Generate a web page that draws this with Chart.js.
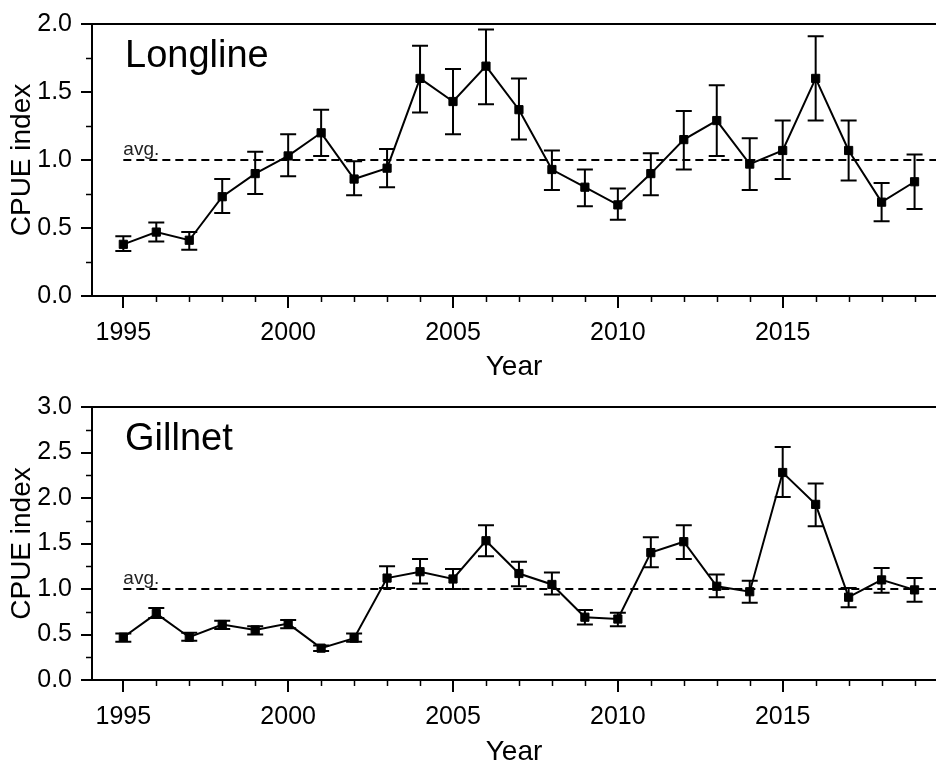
<!DOCTYPE html>
<html>
<head>
<meta charset="utf-8">
<title>CPUE index - Longline / Gillnet</title>
<script src="https://cdn.jsdelivr.net/npm/chart.js@4.4.1/dist/chart.umd.min.js"></script>
<style>
  html, body { margin: 0; padding: 0; background: #fff; overflow: hidden; }
  canvas { display: block; }
</style>
</head>
<body>
<canvas id="longlineChart" width="936" height="383"></canvas>
<canvas id="gillnetChart" width="936" height="383"></canvas>
<script>
// data
const years = [1995, 1996, 1997, 1998, 1999, 2000, 2001, 2002, 2003, 2004, 2005, 2006,
               2007, 2008, 2009, 2010, 2011, 2012, 2013, 2014, 2015, 2016, 2017, 2018, 2019];

const longlineIndex = [0.38, 0.47, 0.41, 0.73, 0.90, 1.03, 1.20, 0.86, 0.94, 1.60, 1.43, 1.69,
                       1.37, 0.93, 0.80, 0.67, 0.90, 1.15, 1.29, 0.97, 1.07, 1.60, 1.07, 0.69, 0.84];
const longlineLower = [0.33, 0.40, 0.34, 0.61, 0.75, 0.88, 1.03, 0.74, 0.80, 1.35, 1.19, 1.41,
                       1.15, 0.78, 0.66, 0.56, 0.74, 0.93, 1.03, 0.78, 0.86, 1.29, 0.85, 0.55, 0.64];
const longlineUpper = [0.44, 0.54, 0.47, 0.86, 1.06, 1.19, 1.37, 0.99, 1.08, 1.84, 1.67, 1.96,
                       1.60, 1.07, 0.93, 0.79, 1.05, 1.36, 1.55, 1.16, 1.29, 1.91, 1.29, 0.83, 1.04];

const gillnetIndex = [0.47, 0.73, 0.47, 0.61, 0.55, 0.62, 0.35, 0.46, 1.12, 1.19, 1.11, 1.53,
                      1.17, 1.05, 0.69, 0.67, 1.40, 1.52, 1.03, 0.97, 2.28, 1.93, 0.91, 1.10, 0.99];
const gillnetLower = [0.42, 0.68, 0.43, 0.56, 0.50, 0.57, 0.32, 0.42, 1.01, 1.06, 1.00, 1.36,
                      1.03, 0.94, 0.61, 0.59, 1.24, 1.33, 0.91, 0.85, 2.01, 1.69, 0.80, 0.96, 0.86];
const gillnetUpper = [0.51, 0.79, 0.52, 0.65, 0.59, 0.66, 0.38, 0.51, 1.25, 1.33, 1.22, 1.70,
                      1.30, 1.18, 0.77, 0.74, 1.57, 1.70, 1.16, 1.09, 2.56, 2.16, 1.01, 1.23, 1.12];

const avgLevel = 1.0;
const xTickLabels = [1995, 2000, 2005, 2010, 2015];
const longlineYTicks = [0.0, 0.5, 1.0, 1.5, 2.0];
const gillnetYTicks = [0.0, 0.5, 1.0, 1.5, 2.0, 2.5, 3.0];

const FONT = '"Liberation Sans", Arial, Helvetica, sans-serif';
const X_MIN = 1994.05, X_MAX = 2019.65;

// vertical error bars with caps, drawn under the line and markers
const errorBarPlugin = {
    id: "errorBars",
    beforeDatasetsDraw(chart, args, opts) {
        const { ctx, scales: { x, y } } = chart;
        ctx.save();
        ctx.strokeStyle = "#000";
        ctx.lineWidth = 2;
        opts.lower.forEach((lo, i) => {
            const px = x.getPixelForValue(years[i]);
            const yLo = y.getPixelForValue(lo);
            const yHi = y.getPixelForValue(opts.upper[i]);
            ctx.beginPath();
            ctx.moveTo(px, yLo); ctx.lineTo(px, yHi);
            ctx.moveTo(px - 8, yLo); ctx.lineTo(px + 8, yLo);
            ctx.moveTo(px - 8, yHi); ctx.lineTo(px + 8, yHi);
            ctx.stroke();
        });
        ctx.restore();
    }
};

// top frame line, minor ticks and the text inside the panel
const decorPlugin = {
    id: "decor",
    afterDraw(chart, args, opts) {
        const { ctx, chartArea, scales: { x, y } } = chart;
        ctx.save();
        ctx.strokeStyle = "#000";
        ctx.lineWidth = 2;
        ctx.beginPath();
        ctx.moveTo(chartArea.left - 1, chartArea.top);
        ctx.lineTo(chartArea.right, chartArea.top);
        ctx.stroke();

        // minor ticks
        ctx.lineWidth = 1.5;
        ctx.beginPath();
        years.forEach(yr => {
            if (xTickLabels.includes(yr)) return;
            const px = Math.round(x.getPixelForValue(yr)) + 0.5;
            ctx.moveTo(px, chartArea.bottom);
            ctx.lineTo(px, chartArea.bottom + 6);
        });
        for (let i = 0; i < opts.yTicks.length - 1; i++) {
            const v = (opts.yTicks[i] + opts.yTicks[i + 1]) / 2;
            const py = Math.round(y.getPixelForValue(v)) + 0.5;
            ctx.moveTo(chartArea.left, py);
            ctx.lineTo(chartArea.left - 6, py);
        }
        ctx.stroke();

        // panel name
        ctx.fillStyle = "#000";
        ctx.font = "38px " + FONT;
        ctx.textAlign = "left";
        ctx.textBaseline = "alphabetic";
        ctx.fillText(opts.label, chartArea.left + 33, chartArea.top + 43);

        // avg. label
        ctx.fillStyle = "#222";
        ctx.font = "19px " + FONT;
        ctx.fillText("avg.", x.getPixelForValue(years[0]), y.getPixelForValue(avgLevel) - 5);
        ctx.restore();
    }
};

function makeChart(canvasId, cfg) {
    const ctx = document.getElementById(canvasId).getContext("2d");
    return new Chart(ctx, {
        type: "line",
        data: {
            datasets: [{
                label: cfg.label,
                data: years.map((yr, i) => ({ x: yr, y: cfg.index[i] })),
                borderColor: "#000",
                borderWidth: 2,
                backgroundColor: "#000",
                pointStyle: "rect",
                pointRadius: 5.8,
                pointBorderWidth: 1,
                tension: 0,
                order: 0
            }, {
                label: "avg.",
                data: [{ x: years[0], y: avgLevel }, { x: X_MAX, y: avgLevel }],
                borderColor: "#000",
                borderWidth: 2,
                borderDash: [8, 5],
                pointRadius: 0,
                order: 1
            }]
        },
        options: {
            responsive: false,
            animation: false,
            layout: {
                autoPadding: false,
                padding: { top: cfg.topPad, left: 0, right: 0, bottom: 0 }
            },
            plugins: {
                legend: { display: false },
                tooltip: { enabled: false },
                errorBars: { lower: cfg.lower, upper: cfg.upper },
                decor: { label: cfg.label, yTicks: cfg.yTicks }
            },
            scales: {
                x: {
                    type: "linear",
                    min: X_MIN,
                    max: X_MAX,
                    afterBuildTicks: scale => { scale.ticks = years.map(v => ({ value: v })); },
                    afterFit: scale => {
                        scale.height = cfg.xHeight;
                        scale.paddingLeft = 0;
                        scale.paddingRight = 0;
                    },
                    ticks: {
                        autoSkip: false,
                        maxRotation: 0,
                        padding: 10,
                        color: "#000",
                        font: { family: FONT, size: 25 },
                        callback: v => xTickLabels.includes(v) ? String(v) : ""
                    },
                    grid: {
                        drawOnChartArea: false,
                        drawTicks: true,
                        tickLength: 12,
                        lineWidth: 2,
                        tickColor: c => (c.tick && xTickLabels.includes(c.tick.value)) ? "#000" : "rgba(0,0,0,0)"
                    },
                    border: { display: true, color: "#000", width: 2 },
                    title: {
                        display: true,
                        text: "Year",
                        color: "#000",
                        font: { family: FONT, size: 28, lineHeight: 1 },
                        padding: { top: 0, bottom: cfg.titlePad }
                    }
                },
                y: {
                    min: 0,
                    max: cfg.yTicks[cfg.yTicks.length - 1],
                    afterBuildTicks: scale => { scale.ticks = cfg.yTicks.map(v => ({ value: v })); },
                    afterFit: scale => { scale.width = 92; },
                    ticks: {
                        padding: 9,
                        color: "#000",
                        font: { family: FONT, size: 25 },
                        callback: v => v.toFixed(1)
                    },
                    grid: {
                        drawOnChartArea: false,
                        drawTicks: true,
                        tickLength: 11,
                        lineWidth: 2,
                        color: "#000"
                    },
                    border: { display: true, color: "#000", width: 2 },
                    title: {
                        display: true,
                        text: "CPUE index",
                        color: "#000",
                        font: { family: FONT, size: 28, lineHeight: 1 },
                        padding: { top: 8, bottom: 0 }
                    }
                }
            }
        },
        plugins: [errorBarPlugin, decorPlugin]
    });
}

makeChart("longlineChart", {
    label: "Longline",
    index: longlineIndex,
    lower: longlineLower,
    upper: longlineUpper,
    yTicks: longlineYTicks,
    topPad: 17,
    xHeight: 87,
    titlePad: 2
});

makeChart("gillnetChart", {
    label: "Gillnet",
    index: gillnetIndex,
    lower: gillnetLower,
    upper: gillnetUpper,
    yTicks: gillnetYTicks,
    topPad: 19,
    xHeight: 86,
    titlePad: 0
});
</script>
</body>
</html>
